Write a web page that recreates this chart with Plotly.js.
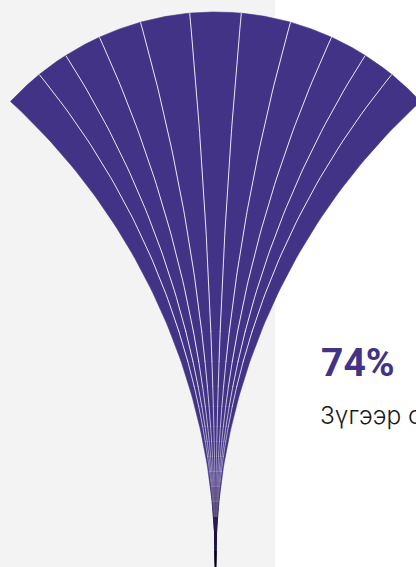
<!DOCTYPE html>
<html>
<head>
<meta charset="utf-8">
<script src="https://cdn.plot.ly/plotly-3.0.1.min.js"></script>
<style>
  html, body { margin: 0; padding: 0; background: #ffffff; }
  #chart { width: 416px; height: 567px; }
</style>
</head>
<body>
<div id="chart"></div>
<script>
// ---- data ----
const stripLabels = ["1","2","3","4","5","6","7","8","9","10","11"];
const stripShares = [0.187, 0.148, 0.167, 0.185, 0.207, 0.212, 0.207, 0.185, 0.167, 0.148, 0.187];
const percentLabel = "74%";
const captionText = "Зүгээр суудаг";

// ---- geometry / style ----
const W = 416, H = 567;
const FAN = "#433387";
const pivot = { x: 215.5, y: 567 };
const kMax = 1 / 631;                 // curvature of the outer ribs
const arcC = { x: 215.5, y: 291.6 };  // centre of the top arc
const arcR = 279.6;

function ribPoint(s, h) {
  const k = s * kMax;
  const off = k * h * h / (1 + Math.sqrt(Math.max(0, 1 - k * k * h * h)));
  return [pivot.x + off, pivot.y - h];
}
function ribTop(s) {
  let lo = 300, hi = 620;
  for (let i = 0; i < 60; i++) {
    const mid = (lo + hi) / 2;
    const p = ribPoint(s, mid);
    const d = Math.hypot(p[0] - arcC.x, p[1] - arcC.y);
    if (d < arcR) lo = mid; else hi = mid;
  }
  return lo;
}

// cumulative boundaries in [-1, 1]
const total = stripShares.reduce((a, b) => a + b, 0);
const bounds = [-1];
stripShares.forEach(v => bounds.push(bounds[bounds.length - 1] + 2 * v / total));

const traces = [];
const N = 80;
for (let i = 0; i < stripShares.length; i++) {
  const sa = bounds[i], sb = bounds[i + 1];
  const ha = ribTop(sa), hb = ribTop(sb);
  const xs = [], ys = [];
  for (let j = 0; j <= N; j++) { const p = ribPoint(sa, ha * j / N); xs.push(p[0]); ys.push(p[1]); }
  const pa = ribPoint(sa, ha), pb = ribPoint(sb, hb);
  const a0 = Math.atan2(pa[1] - arcC.y, pa[0] - arcC.x);
  const a1 = Math.atan2(pb[1] - arcC.y, pb[0] - arcC.x);
  for (let j = 1; j < 30; j++) {
    const a = a0 + (a1 - a0) * j / 30;
    xs.push(arcC.x + arcR * Math.cos(a)); ys.push(arcC.y + arcR * Math.sin(a));
  }
  for (let j = N; j >= 0; j--) { const p = ribPoint(sb, hb * j / N); xs.push(p[0]); ys.push(p[1]); }
  traces.push({
    type: "scatter", mode: "lines", x: xs, y: ys, fill: "toself",
    fillcolor: FAN, line: { color: FAN, width: 0.6 },
    name: stripLabels[i], hoverinfo: "skip", showlegend: false
  });
}
// white ribs, fading in gradually from the handle upward
function ribTrace(s, h0, h1, color) {
  const xs = [], ys = [];
  const n = 40;
  for (let j = 0; j <= n; j++) { const p = ribPoint(s, h0 + (h1 - h0) * j / n); xs.push(p[0]); ys.push(p[1]); }
  return { type: "scatter", mode: "lines", x: xs, y: ys,
           line: { color: color, width: 1 }, hoverinfo: "skip", showlegend: false };
}
const ribSteps = [50, 65, 80, 95, 110, 125, 140, 160, 180, 205, 235];
for (let i = 1; i < bounds.length - 1; i++) {
  const s = bounds[i], ht = ribTop(s);
  for (let j = 0; j < ribSteps.length - 1; j++) {
    const op = 0.18 + (0.86 - 0.18) * Math.pow((j + 1) / (ribSteps.length - 1), 1.2);
    traces.push(ribTrace(s, ribSteps[j], ribSteps[j + 1] + 0.5, "rgba(255,255,255," + op.toFixed(3) + ")"));
  }
  traces.push(ribTrace(s, ribSteps[ribSteps.length - 1], ht, "rgba(255,255,255,0.88)"));
}
// dark fade toward the handle: nested layers (no seams)
{
  const hMax = 95, nb = 19;
  const target = h => 0.96 * Math.pow(Math.max(0, 1 - h / hMax), 1.15);
  for (let k = nb; k >= 1; k--) {
    const hk = hMax * k / nb, hprev = hMax * (k - 1) / nb;
    const alpha = 1 - (1 - target(hprev)) / (1 - target(hk));
    const xs = [], ys = [];
    for (let j = 0; j <= 20; j++) { const p = ribPoint(-1.02, hk * j / 20); xs.push(p[0] - 0.5); ys.push(p[1]); }
    for (let j = 20; j >= 0; j--) { const p = ribPoint(1.02, hk * j / 20); xs.push(p[0] + 0.5); ys.push(p[1]); }
    traces.push({
      type: "scatter", mode: "lines", x: xs, y: ys, fill: "toself",
      line: { width: 0, color: "rgba(0,0,0,0)" },
      fillcolor: "rgba(22,9,34," + Math.max(0, alpha).toFixed(4) + ")",
      hoverinfo: "skip", showlegend: false
    });
  }
  traces.push({
    type: "scatter", mode: "lines", x: [pivot.x, pivot.x], y: [pivot.y - 16, pivot.y + 2],
    line: { color: "#07030c", width: 2 }, hoverinfo: "skip", showlegend: false
  });
}

const layout = {
  width: W, height: H,
  margin: { l: 0, r: 0, t: 0, b: 0, pad: 0 },
  paper_bgcolor: "#ffffff", plot_bgcolor: "rgba(0,0,0,0)",
  xaxis: { range: [0, W], visible: false, fixedrange: true },
  yaxis: { range: [H, 0], visible: false, fixedrange: true },
  showlegend: false,
  shapes: [{ type: "rect", xref: "x", yref: "y", x0: 0, x1: 275, y0: 0, y1: H,
             fillcolor: "#f3f3f3", line: { width: 0 }, layer: "below" }],
  annotations: [
    { x: 319, y: 363, xref: "x", yref: "y", xanchor: "left", yanchor: "middle",
      text: percentLabel, showarrow: false,
      font: { family: "Roboto", size: 39, weight: 700, color: FAN } },
    { x: 318, y: 415, xref: "x", yref: "y", xanchor: "left", yanchor: "middle",
      text: captionText, showarrow: false,
      font: { family: "Inter", size: 24.5, weight: 300, color: "#1a1a1a" } }
  ]
};

Plotly.newPlot("chart", traces, layout, { staticPlot: true, displayModeBar: false });
</script>
</body>
</html>
